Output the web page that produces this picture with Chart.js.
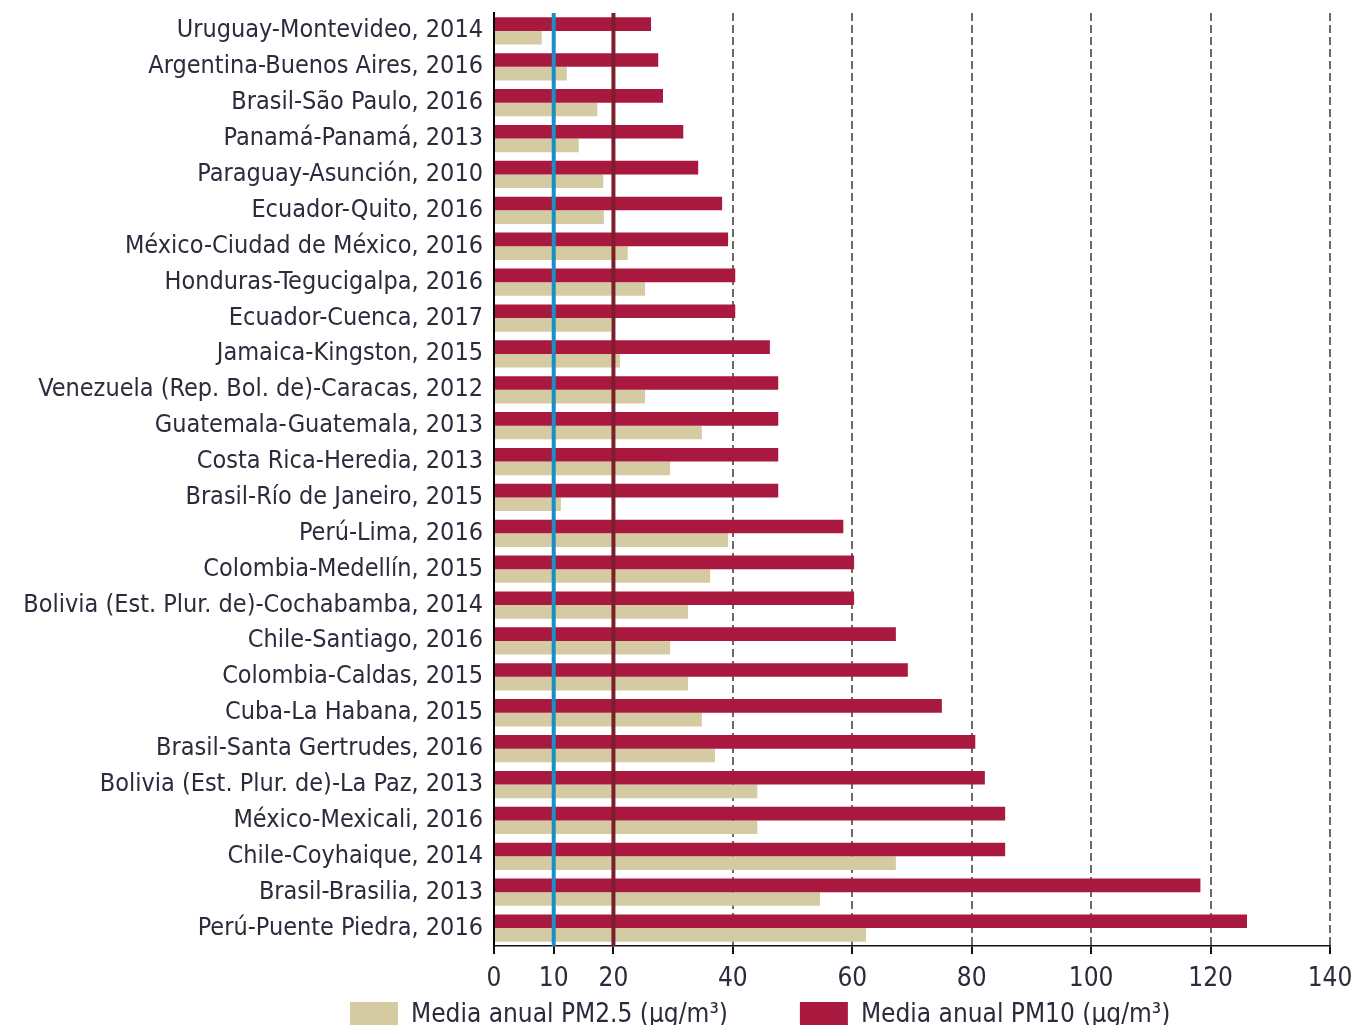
<!DOCTYPE html>
<html>
<head>
<meta charset="utf-8">
<script src="https://cdn.jsdelivr.net/npm/chart.js@4.4.1/dist/chart.umd.min.js"></script>
<style>
  html, body { margin: 0; padding: 0; background: #fff; }
  #wrap { width: 1356px; height: 1025px; }
</style>
</head>
<body>
<div id="wrap"><canvas id="pmChart"></canvas></div>
<script>
const categories = [
    'Uruguay-Montevideo, 2014',
    'Argentina-Buenos Aires, 2016',
    'Brasil-São Paulo, 2016',
    'Panamá-Panamá, 2013',
    'Paraguay-Asunción, 2010',
    'Ecuador-Quito, 2016',
    'México-Ciudad de México, 2016',
    'Honduras-Tegucigalpa, 2016',
    'Ecuador-Cuenca, 2017',
    'Jamaica-Kingston, 2015',
    'Venezuela (Rep. Bol. de)-Caracas, 2012',
    'Guatemala-Guatemala, 2013',
    'Costa Rica-Heredia, 2013',
    'Brasil-Río de Janeiro, 2015',
    'Perú-Lima, 2016',
    'Colombia-Medellín, 2015',
    'Bolivia (Est. Plur. de)-Cochabamba, 2014',
    'Chile-Santiago, 2016',
    'Colombia-Caldas, 2015',
    'Cuba-La Habana, 2015',
    'Brasil-Santa Gertrudes, 2016',
    'Bolivia (Est. Plur. de)-La Paz, 2013',
    'México-Mexicali, 2016',
    'Chile-Coyhaique, 2014',
    'Brasil-Brasilia, 2013',
    'Perú-Puente Piedra, 2016'
];
const pm10 = [26.3, 27.5, 28.3, 31.7, 34.2, 38.2, 39.2, 40.4, 40.4, 46.2, 47.6, 47.6, 47.6, 47.6,
              58.5, 60.3, 60.3, 67.3, 69.3, 75.0, 80.6, 82.2, 85.6, 85.6, 118.3, 126.1];
const pm25 = [8.0, 12.2, 17.3, 14.2, 18.3, 18.4, 22.4, 25.3, 19.6, 21.1, 25.3, 34.8, 29.5, 11.2,
              39.2, 36.2, 32.5, 29.5, 32.5, 34.8, 37.0, 44.1, 44.1, 67.3, 54.6, 62.3];
const xTicks = [0, 10, 20, 40, 60, 80, 100, 120, 140];
// guideline values (PM2.5, PM10)
const guideValues = [10, 20];
const guideColors = ['#1b8fc4', '#7b1f2a'];

const textColor = '#2b2b3b';
const fontFamily = '"DejaVu Sans Condensed", "DejaVu Sans", sans-serif';

// vertical reference lines drawn over the bars
const guidePlugin = {
    id: 'guideLines',
    afterDatasetsDraw(chart) {
        const ctx = chart.ctx;
        const xs = chart.scales.x;
        const area = chart.chartArea;
        ctx.save();
        guideValues.forEach((v, i) => {
            const px = xs.getPixelForValue(v);
            ctx.beginPath();
            ctx.strokeStyle = guideColors[i];
            ctx.lineWidth = 4;
            ctx.moveTo(px, area.top);
            ctx.lineTo(px, area.bottom);
            ctx.stroke();
        });
        ctx.restore();
    }
};

// nudge the legend right and up, like the original layout
const legendShift = {
    id: 'legendShift',
    afterLayout(chart) {
        const lg = chart.legend;
        if (lg) {
            lg.left += 278;
            lg.right += 278;
            lg.top -= 64;
            lg.bottom -= 64;
        }
    }
};

const chart = new Chart(document.getElementById('pmChart'), {
    type: 'bar',
    data: {
        labels: categories,
        datasets: [{
            label: 'Media anual PM10 (µg/m³)',
            data: pm10,
            backgroundColor: '#a8183f',
            categoryPercentage: 0.76,
            barPercentage: 1
        },
        {
            label: 'Media anual PM2.5 (µg/m³)',
            data: pm25,
            backgroundColor: '#d4cba3',
            categoryPercentage: 0.76,
            barPercentage: 1
        }]
    },
    options: {
        indexAxis: 'y',
        responsive: true,
        maintainAspectRatio: false,
        animation: false,
        layout: {
            padding: { top: 13, right: 26, left: 0, bottom: -77 }
        },
        plugins: {
            legend: {
                position: 'bottom',
                align: 'start',
                reverse: true,
                labels: {
                    boxWidth: 48,
                    boxHeight: 26,
                    padding: 72,
                    color: textColor,
                    font: { family: fontFamily, size: 26 }
                }
            },
            tooltip: { enabled: false }
        },
        scales: {
            x: {
                min: 0,
                max: 140,
                afterBuildTicks(scale) {
                    scale.ticks = xTicks.map(v => ({ value: v }));
                },
                afterFit(scale) {
                    scale.height = 48;
                    scale.paddingLeft = 0;
                    scale.paddingRight = 0;
                },
                ticks: {
                    color: textColor,
                    font: { family: fontFamily, size: 26 },
                    padding: 10,
                    maxRotation: 0,
                    autoSkip: false
                },
                grid: {
                    color: c => (c.tick && c.tick.value >= 40) ? '#6a6a6a' : 'rgba(0,0,0,0)',
                    lineWidth: 2,
                    tickColor: '#111111',
                    tickLength: 8,
                    tickWidth: 2,
                    tickBorderDash: []
                },
                border: {
                    color: '#111111',
                    width: 1.5,
                    dash: [8, 4]
                }
            },
            y: {
                afterFit(scale) {
                    scale.width = 494;
                    scale.paddingTop = 0;
                    scale.paddingBottom = 0;
                },
                ticks: {
                    color: textColor,
                    font: { family: fontFamily, size: 25 },
                    padding: 11,
                    autoSkip: false
                },
                grid: { display: false, drawTicks: false },
                border: { color: '#000000', width: 2 }
            }
        }
    },
    plugins: [guidePlugin, legendShift]
});
</script>
</body>
</html>
